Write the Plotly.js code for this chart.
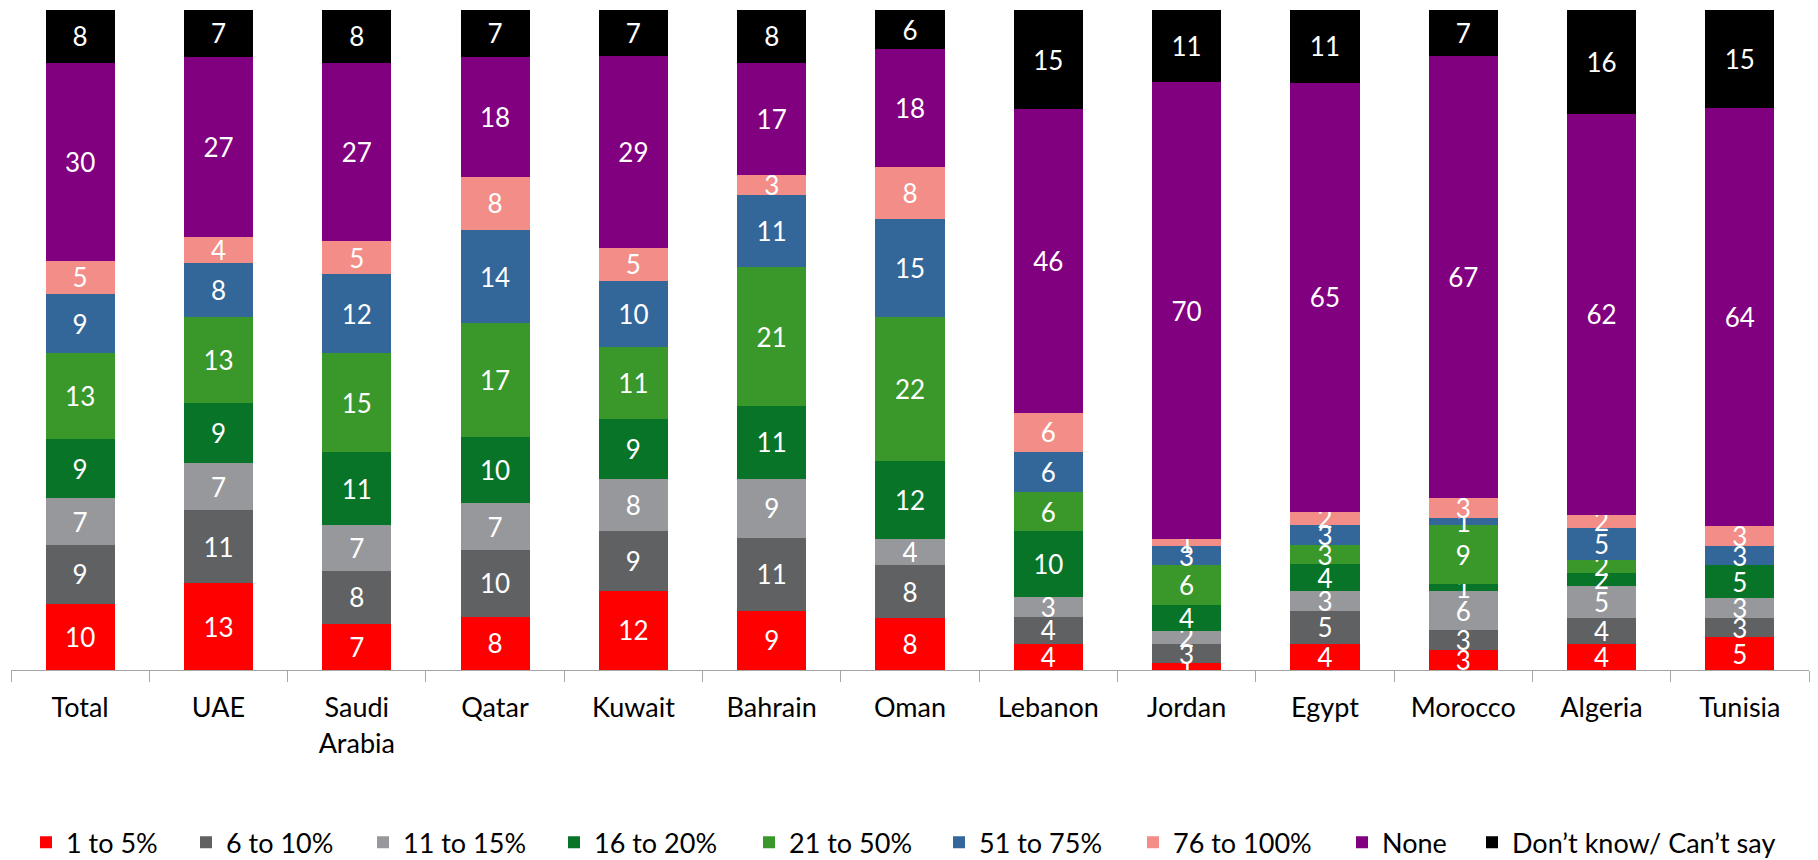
<!DOCTYPE html>
<html>
<head>
<meta charset="utf-8">
<script src="https://cdn.plot.ly/plotly-3.0.1.min.js"></script>
<style>html,body{margin:0;padding:0;background:#fff;}#chart{width:1818px;height:860px;}</style>
</head>
<body>
<div id="chart"></div>
<script>
const categories = ["Total","UAE","Saudi<br>Arabia","Qatar","Kuwait","Bahrain","Oman","Lebanon","Jordan","Egypt","Morocco","Algeria","Tunisia"];
const seriesNames = ["1 to 5%","6 to 10%","11 to 15%","16 to 20%","21 to 50%","51 to 75%","76 to 100%","None","Don’t know/ Can’t say"];
const colors = ["#ff0000","#606163","#97989b","#077428","#3a972a","#336699","#f28d88","#800080","#000000"];
const s1to5    = [10,13,7,8,12,9,8,4,1,4,3,4,5];
const s6to10   = [9,11,8,10,9,11,8,4,3,5,3,4,3];
const s11to15  = [7,7,7,7,8,9,4,3,2,3,6,5,3];
const s16to20  = [9,9,11,10,9,11,12,10,4,4,1,2,5];
const s21to50  = [13,13,15,17,11,21,22,6,6,3,9,2,0];
const s51to75  = [9,8,12,14,10,11,15,6,3,3,1,5,3];
const s76to100 = [5,4,5,8,5,3,8,6,1,2,3,2,3];
const sNone    = [30,27,27,18,29,17,18,46,70,65,67,62,64];
const sDontKnow= [8,7,8,7,7,8,6,15,11,11,7,16,15];
const allSeries = [s1to5,s6to10,s11to15,s16to20,s21to50,s51to75,s76to100,sNone,sDontKnow];

// legend entry left positions (px) – layout only
const legendLeftPx = [26,186,363,554,749,939,1133,1342,1472];
const W = 1818, H = 860;

const font = "Lato, 'Open Sans', sans-serif";
const traces = allSeries.map((vals,i)=>({
  type:'bar', name:seriesNames[i], x:categories, y:vals,
  text:vals.map(String), texttemplate:'%{text}', textposition:'inside',
  insidetextanchor:'middle', constraintext:'none', textangle:0,
  textfont:{color:'#ffffff', size:26, family:font},
  marker:{color:colors[i], line:{width:0}},
  legend: i===0 ? 'legend' : 'legend'+(i+1),
  hoverinfo:'skip'
}));

const layout = {
  width:W, height:H,
  margin:{l:11, r:9, t:10, b:190},
  barmode:'stack', barnorm:'percent', bargap:0.5,
  paper_bgcolor:'#ffffff', plot_bgcolor:'#ffffff',
  showlegend:true,
  xaxis:{type:'category', showline:true, linecolor:'#a6a6a6', linewidth:1, ticks:'outside', tickson:'boundaries',
    ticklen:11, tickcolor:'#a6a6a6', tickfont:{family:font, size:27, color:'#000'}, ticklabelstandoff:14,
    showgrid:false, zeroline:false},
  yaxis:{range:[0,100], visible:false, showgrid:false, zeroline:false},
  font:{family:font}
};
legendLeftPx.forEach((px,i)=>{
  const key = i===0 ? 'legend' : 'legend'+(i+1);
  layout[key] = {orientation:'h', xref:'container', yref:'container', x:px/W, y:0.02,
    xanchor:'left', yanchor:'middle', bgcolor:'rgba(0,0,0,0)', borderwidth:0,
    font:{family:font, size:27, color:'#000'}, itemwidth:30};
});
Plotly.newPlot('chart', traces, layout, {displayModeBar:false, staticPlot:true});
</script>
</body>
</html>
